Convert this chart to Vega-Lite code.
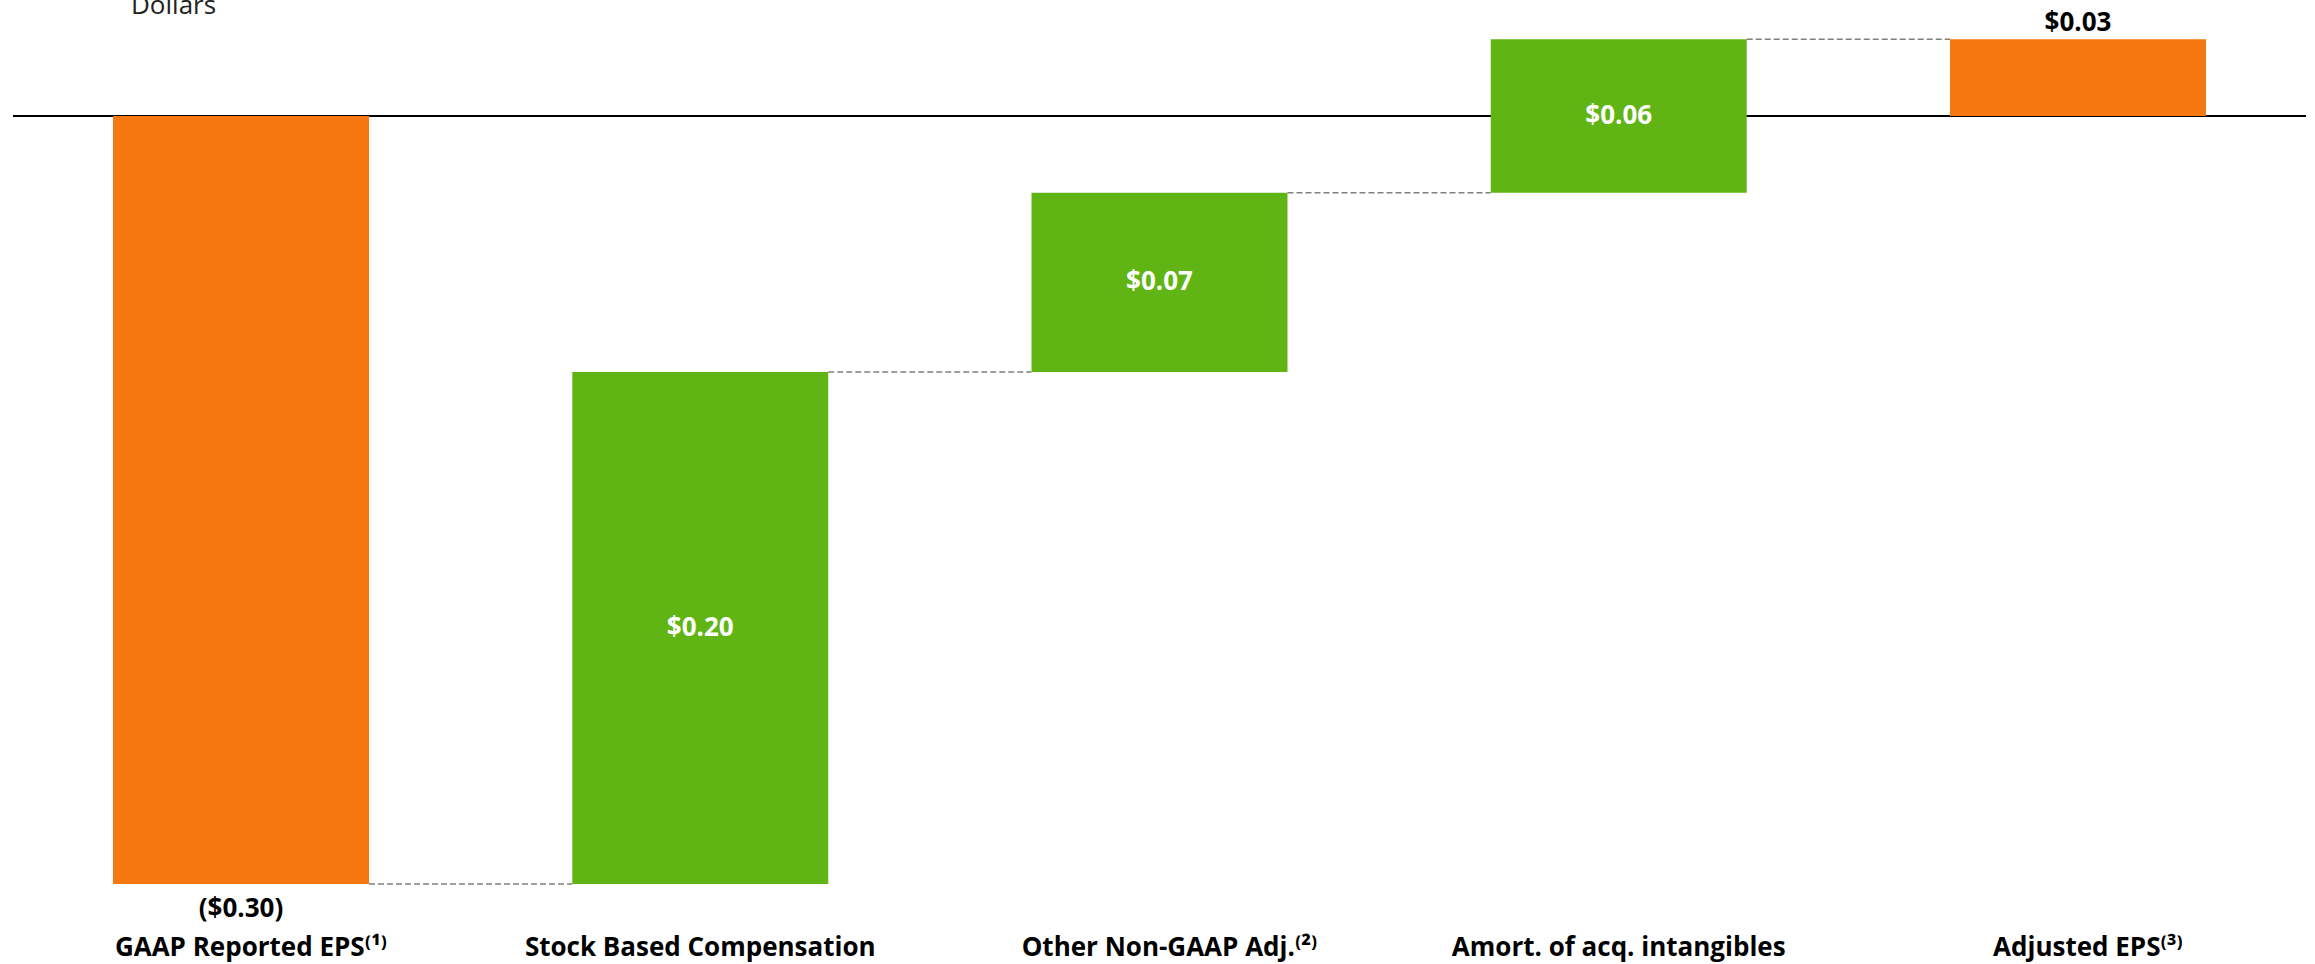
{
  "$schema": "https://vega.github.io/schema/vega-lite/v6.json",
  "width": 2293,
  "height": 900,
  "autosize": {"type": "none"},
  "padding": {"left": 13, "right": 9, "top": 0, "bottom": 64},
  "background": "white",
  "config": {"view": {"stroke": null}, "font": "Open Sans"},
  "title": {"text": "Dollars", "anchor": "start", "orient": "top", "offset": 0, "baseline": "alphabetic", "dy": 40, "dx": 119, "fontSize": 26, "fontWeight": "normal", "color": "#222222", "font": "Open Sans"},
  "data": {"values": [
    {"cat": "GAAP Reported EPS⁽¹⁾", "next": "Stock Based Compensation", "kind": "total", "start": 0, "end": -0.30, "label": "($0.30)"},
    {"cat": "Stock Based Compensation", "next": "Other Non-GAAP Adj.⁽²⁾", "kind": "delta", "start": -0.30, "end": -0.10, "label": "$0.20"},
    {"cat": "Other Non-GAAP Adj.⁽²⁾", "next": "Amort. of acq. intangibles", "kind": "delta", "start": -0.10, "end": -0.03, "label": "$0.07"},
    {"cat": "Amort. of acq. intangibles", "next": "Adjusted EPS⁽³⁾", "kind": "delta", "start": -0.03, "end": 0.03, "label": "$0.06"},
    {"cat": "Adjusted EPS⁽³⁾", "next": null, "kind": "total", "start": 0, "end": 0.03, "label": "$0.03"}
  ]},
  "resolve": {"scale": {"x": "shared", "y": "shared"}},
  "layer": [
    {
      "data": {"values": [{}]},
      "mark": {"type": "rule", "color": "black", "strokeWidth": 2},
      "encoding": {"y": {"datum": 0, "type": "quantitative", "scale": {"domain": [-0.30625, 0.0453125], "nice": false, "zero": false}, "axis": null}}
    },
    {
      "transform": [{"filter": "datum.next != null"}],
      "mark": {"type": "rule", "color": "#7f7f7f", "strokeWidth": 1.5, "strokeDash": [6, 3]},
      "encoding": {
        "x": {"field": "cat", "type": "nominal", "sort": null, "bandPosition": 1},
        "x2": {"field": "next", "bandPosition": 0},
        "y": {"field": "end", "type": "quantitative"}
      }
    },
    {
      "mark": {"type": "bar"},
      "encoding": {
        "x": {"field": "cat", "type": "nominal", "sort": null,
          "scale": {"paddingInner": 0.4426, "paddingOuter": 0.2178},
          "axis": {"title": null, "domain": false, "ticks": false, "tickSize": 0, "labelAngle": 0, "labelAlign": "center", "labelFont": "Open Sans", "labelFontWeight": "bold", "labelFontSize": 26, "labelColor": "black", "labelPadding": 55, "labelBaseline": "alphabetic", "labelLimit": 0,
            "labelOffset": {"condition": {"test": "indexof(datum.value, '⁽') >= 0", "value": 10}, "value": 0}}},
        "y": {"field": "start", "type": "quantitative"},
        "y2": {"field": "end"},
        "color": {"field": "kind", "type": "nominal", "scale": {"domain": ["total", "delta"], "range": ["#F5770F", "#60B514"]}, "legend": null}
      }
    },
    {
      "transform": [{"filter": "datum.kind == 'delta'"}, {"fold": ["start", "end"], "as": ["k", "v"]}],
      "mark": {"type": "text", "color": "white", "fontWeight": "bold", "fontSize": 26, "font": "Open Sans", "baseline": "middle", "align": "center"},
      "encoding": {
        "x": {"field": "cat", "type": "nominal", "sort": null},
        "y": {"aggregate": "mean", "field": "v", "type": "quantitative"},
        "text": {"field": "label", "type": "nominal"}
      }
    },
    {
      "transform": [{"filter": "datum.kind == 'total' && datum.end < 0"}],
      "mark": {"type": "text", "color": "black", "fontWeight": "bold", "fontSize": 26, "font": "Open Sans", "baseline": "alphabetic", "align": "center", "dy": 33},
      "encoding": {
        "x": {"field": "cat", "type": "nominal", "sort": null},
        "y": {"field": "end", "type": "quantitative"},
        "text": {"field": "label", "type": "nominal"}
      }
    },
    {
      "transform": [{"filter": "datum.kind == 'total' && datum.end > 0"}],
      "mark": {"type": "text", "color": "black", "fontWeight": "bold", "fontSize": 26, "font": "Open Sans", "baseline": "alphabetic", "align": "center", "dy": -8},
      "encoding": {
        "x": {"field": "cat", "type": "nominal", "sort": null},
        "y": {"field": "end", "type": "quantitative"},
        "text": {"field": "label", "type": "nominal"}
      }
    }
  ]
}
